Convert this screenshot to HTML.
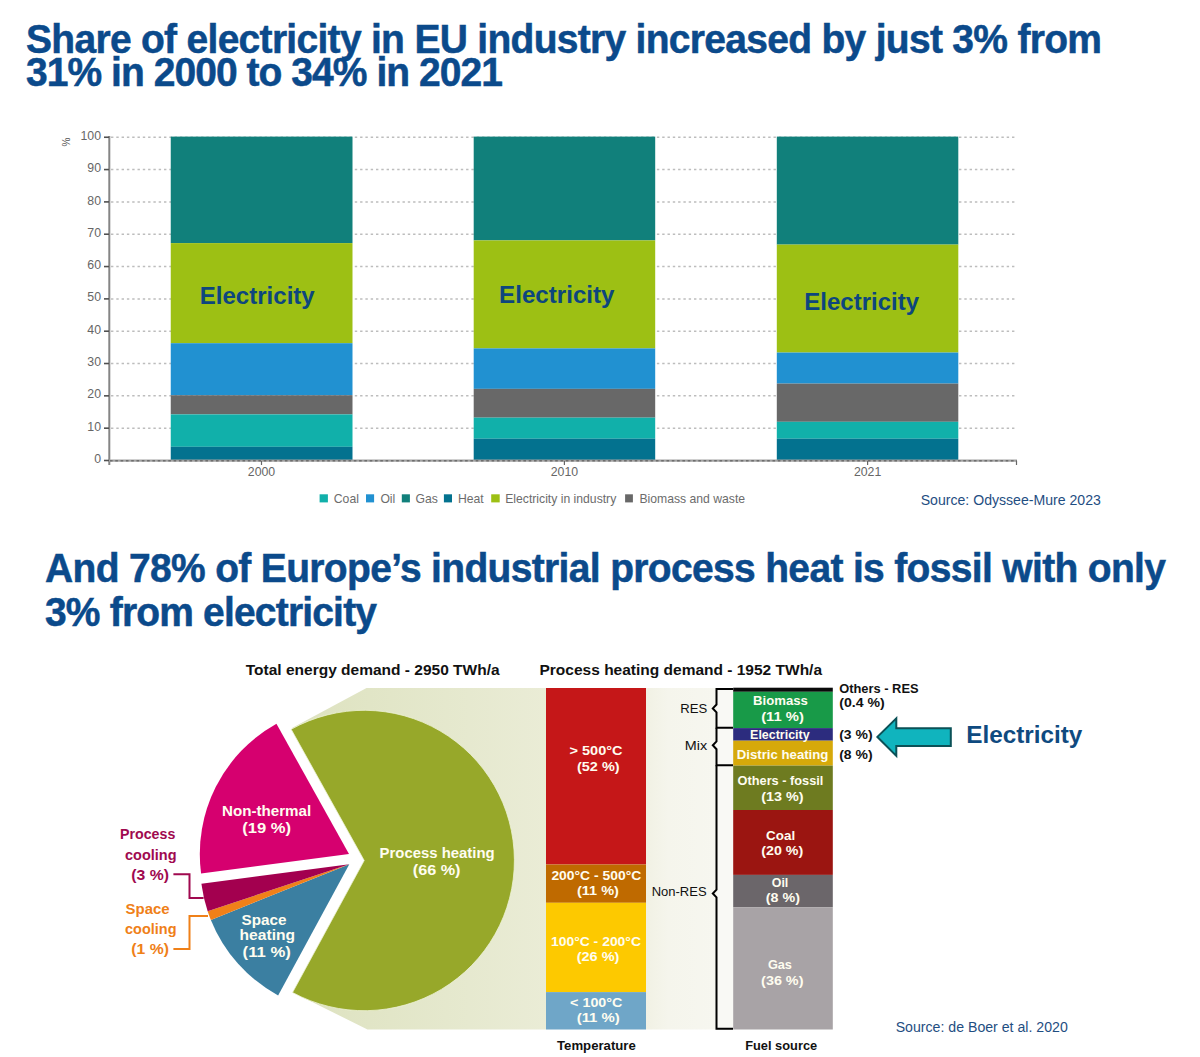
<!DOCTYPE html>
<html>
<head>
<meta charset="utf-8">
<style>
html,body{margin:0;padding:0;background:#fff;}
body{width:1200px;height:1057px;overflow:hidden;position:relative;font-family:"Liberation Sans",sans-serif;}
svg{position:absolute;left:0;top:0;}
svg text{font-family:"Liberation Sans",sans-serif;}
.t{font-weight:bold;fill:#0b4a8b;font-size:39px;stroke:#0b4a8b;stroke-width:0.5px;}
.yl{font-size:12.3px;fill:#666;text-anchor:end;}
.xl{font-size:12.3px;fill:#666;text-anchor:middle;}
.lg{font-size:12.2px;fill:#6c6c6c;}
</style>
</head>
<body>
<svg width="1200" height="1057" viewBox="0 0 1200 1057">
<defs>
<linearGradient id="shade" x1="0" x2="1" y1="0" y2="0">
<stop offset="0" stop-color="#dde2bf"/>
<stop offset="1" stop-color="#eaecd6"/>
</linearGradient>
<linearGradient id="cream" x1="0" x2="1" y1="0" y2="0">
<stop offset="0" stop-color="#f1f1e4"/>
<stop offset="0.25" stop-color="#f5f5ec"/>
<stop offset="1" stop-color="#f7f7f1"/>
</linearGradient>
</defs>
<!-- ===== Title 1 ===== -->
<text class="t" x="0" y="0" transform="translate(26,52.5) scale(1,1.05)" textLength="1076" lengthAdjust="spacing">Share of electricity in EU industry increased by just 3% from</text>
<text class="t" x="0" y="0" transform="translate(26,86) scale(1,1.05)" textLength="477" lengthAdjust="spacing">31% in 2000 to 34% in 2021</text>

<!-- ===== Top chart ===== -->
<g stroke="#bdbdbd" stroke-width="1.5" stroke-dasharray="2.4 2.9">
<line x1="111" y1="428.18" x2="1017" y2="428.18"/>
<line x1="111" y1="395.85" x2="1017" y2="395.85"/>
<line x1="111" y1="363.52" x2="1017" y2="363.52"/>
<line x1="111" y1="331.20" x2="1017" y2="331.20"/>
<line x1="111" y1="298.88" x2="1017" y2="298.88"/>
<line x1="111" y1="266.55" x2="1017" y2="266.55"/>
<line x1="111" y1="234.22" x2="1017" y2="234.22"/>
<line x1="111" y1="201.90" x2="1017" y2="201.90"/>
<line x1="111" y1="169.57" x2="1017" y2="169.57"/>
<line x1="111" y1="137.25" x2="1017" y2="137.25"/>
</g>
<rect x="170.75" y="136.6" width="181.75" height="106.50" fill="#11807b"/>
<rect x="170.75" y="243.1" width="181.75" height="100.10" fill="#9dc014"/>
<rect x="170.75" y="343.2" width="181.75" height="52.05" fill="#2191d1"/>
<rect x="170.75" y="395.25" width="181.75" height="19.15" fill="#686868"/>
<rect x="170.75" y="414.4" width="181.75" height="32.40" fill="#11b0aa"/>
<rect x="170.75" y="446.8" width="181.75" height="13.50" fill="#03728f"/>
<rect x="473.7" y="136.6" width="181.50" height="103.80" fill="#11807b"/>
<rect x="473.7" y="240.4" width="181.50" height="108.00" fill="#9dc014"/>
<rect x="473.7" y="348.4" width="181.50" height="40.45" fill="#2191d1"/>
<rect x="473.7" y="388.85" width="181.50" height="28.80" fill="#686868"/>
<rect x="473.7" y="417.65" width="181.50" height="21.05" fill="#11b0aa"/>
<rect x="473.7" y="438.7" width="181.50" height="21.60" fill="#03728f"/>
<rect x="776.8" y="136.6" width="181.50" height="108.00" fill="#11807b"/>
<rect x="776.8" y="244.6" width="181.50" height="107.95" fill="#9dc014"/>
<rect x="776.8" y="352.55" width="181.50" height="31.05" fill="#2191d1"/>
<rect x="776.8" y="383.6" width="181.50" height="38.20" fill="#686868"/>
<rect x="776.8" y="421.8" width="181.50" height="16.90" fill="#11b0aa"/>
<rect x="776.8" y="438.7" width="181.50" height="21.60" fill="#03728f"/>
<line x1="109.3" y1="136" x2="109.3" y2="465" stroke="#858585" stroke-width="2"/>
<line x1="108" y1="460.7" x2="1017" y2="460.7" stroke="#a2a2a2" stroke-width="2.2"/>
<line x1="110" y1="460.7" x2="1017" y2="460.7" stroke="#6e6e6e" stroke-width="1.6" stroke-dasharray="2.6 2.7"/>
<g stroke="#505050" stroke-width="1.6">
<line x1="104" y1="460.50" x2="109" y2="460.50"/>
<line x1="104" y1="428.18" x2="109" y2="428.18"/>
<line x1="104" y1="395.85" x2="109" y2="395.85"/>
<line x1="104" y1="363.52" x2="109" y2="363.52"/>
<line x1="104" y1="331.20" x2="109" y2="331.20"/>
<line x1="104" y1="298.88" x2="109" y2="298.88"/>
<line x1="104" y1="266.55" x2="109" y2="266.55"/>
<line x1="104" y1="234.22" x2="109" y2="234.22"/>
<line x1="104" y1="201.90" x2="109" y2="201.90"/>
<line x1="104" y1="169.57" x2="109" y2="169.57"/>
<line x1="104" y1="137.25" x2="109" y2="137.25"/>
</g>
<g stroke="#666" stroke-width="1.2">
<line x1="261.5" y1="461" x2="261.5" y2="465"/>
<line x1="564.4" y1="461" x2="564.4" y2="465"/>
<line x1="867.6" y1="461" x2="867.6" y2="465"/>
<line x1="1016.5" y1="461" x2="1016.5" y2="465"/>
</g>
<g class="yl">
<text x="101" y="463.10">0</text>
<text x="101" y="430.78">10</text>
<text x="101" y="398.45">20</text>
<text x="101" y="366.12">30</text>
<text x="101" y="333.80">40</text>
<text x="101" y="301.48">50</text>
<text x="101" y="269.15">60</text>
<text x="101" y="236.82">70</text>
<text x="101" y="204.50">80</text>
<text x="101" y="172.17">90</text>
<text x="101" y="139.85">100</text>
</g>
<text x="0" y="0" font-size="10" fill="#555" transform="translate(69.7,146.5) rotate(-90)">%</text>
<g class="xl">
<text x="261.5" y="476">2000</text>
<text x="564.4" y="476">2010</text>
<text x="867.6" y="476">2021</text>
</g>
<!-- legend -->
<rect x="319.6" y="494.3" width="8.3" height="8.1" fill="#11b0aa"/>
<rect x="366" y="494.3" width="8.1" height="8.1" fill="#2191d1"/>
<rect x="401.8" y="494.3" width="8.1" height="8.1" fill="#11807b"/>
<rect x="443.9" y="494.3" width="8.1" height="8.1" fill="#03728f"/>
<rect x="491.2" y="494.3" width="8.5" height="8.1" fill="#9dc014"/>
<rect x="625.1" y="494.3" width="7.8" height="8.1" fill="#686868"/>
<g class="lg">
<text x="333.8" y="502.6">Coal</text>
<text x="380.4" y="502.6">Oil</text>
<text x="415.5" y="502.6">Gas</text>
<text x="458" y="502.6">Heat</text>
<text x="505.2" y="502.6">Electricity in industry</text>
<text x="639.4" y="502.6">Biomass and waste</text>
</g>

<!-- ===== Title 2 ===== -->
<text class="t" x="0" y="0" transform="translate(45,582.3) scale(1,1.045)" textLength="1121" lengthAdjust="spacing">And 78% of Europe’s industrial process heat is fossil with only</text>
<text class="t" x="0" y="0" transform="translate(45,626) scale(1,1.045)" textLength="332" lengthAdjust="spacing">3% from electricity</text>

<!-- ===== Bottom chart ===== -->
<polygon points="292,728 366.5,688 546,688 546,1029.5 367.5,1029.5 293,992.5 364.5,860" fill="url(#shade)"/>
<rect x="646" y="688" width="87.5" height="341.5" fill="url(#cream)"/>
<rect x="717" y="688" width="16.5" height="341.5" fill="#f9f9f5"/>
<path d="M364.20,860.50 L291.15,729.26 A150.2,150.2 0 1 1 292.53,992.50 Z" fill="#97a82a" stroke="#eef2d6" stroke-width="0.8"/>
<path d="M349.30,864.30 L278.11,995.42 A149.2,149.2 0 0 1 210.87,919.95 Z" fill="#3b7fa1"/>
<path d="M349.30,864.30 L210.87,919.95 A149.2,149.2 0 0 1 207.65,911.15 Z" fill="#f08019"/>
<path d="M349.30,864.30 L207.65,911.15 A149.2,149.2 0 0 1 201.38,883.77 Z" fill="#a3004f"/>
<path d="M349.00,854.10 L201.08,873.57 A149.2,149.2 0 0 1 276.44,723.73 Z" fill="#d6006f"/>
<path d="M173.4,874.3 H189.5 V898 H203.6" fill="none" stroke="#a0094f" stroke-width="2"/>
<path d="M173.4,949 H189.5 V916 H208" fill="none" stroke="#ef8018" stroke-width="2"/>

<!-- temperature bar -->
<rect x="546" y="688" width="100" height="176.5" fill="#c51718"/>
<rect x="546" y="864.5" width="100" height="38.3" fill="#bf6a00"/>
<rect x="546" y="902.8" width="100" height="89.3" fill="#fdc900"/>
<rect x="546" y="992.1" width="100" height="37.4" fill="#6fa6c8"/>

<!-- fuel bar -->
<rect x="733.2" y="687.7" width="99.6" height="4.1" fill="#0a0a0a"/>
<rect x="733.2" y="691.8" width="99.6" height="36.3" fill="#189a48"/>
<rect x="733.2" y="728.1" width="99.6" height="12.6" fill="#2c2c7e"/>
<rect x="733.2" y="740.7" width="99.6" height="24.9" fill="#d6a90a"/>
<rect x="733.2" y="765.6" width="99.6" height="44.4" fill="#6e7b20"/>
<rect x="733.2" y="810" width="99.6" height="64.9" fill="#9b1511"/>
<rect x="733.2" y="874.9" width="99.6" height="32.3" fill="#6b666a"/>
<rect x="733.2" y="907.2" width="99.6" height="122.3" fill="#a8a3a6"/>

<!-- brackets -->
<g fill="none" stroke="#000" stroke-width="2">
<path d="M733,689 H716.5 V704.5 L712.8,708.4 L716.5,712.3 V727.8 H733"/>
<path d="M716.5,727.8 V741.4 L712.8,745.3 L716.5,749.2 V765.2 H733"/>
<path d="M716.5,765.2 V889.6 L712.8,893.5 L716.5,897.4 V1028.7 H733"/>
</g>
<!-- arrow -->
<polygon points="877.4,736.9 896.3,718.4 896.3,728.2 950.8,728.2 950.8,746 896.3,746 896.3,755.9" fill="#10b4be" stroke="#0b5157" stroke-width="2" stroke-linejoin="miter"/>

<text x="245.80" y="674.8" font-size="15.4" font-weight="bold" fill="#111" textLength="253.82" lengthAdjust="spacingAndGlyphs">Total energy demand - 2950 TWh/a</text>
<text x="539.50" y="674.8" font-size="15.4" font-weight="bold" fill="#111" textLength="282.55" lengthAdjust="spacingAndGlyphs">Process heating demand - 1952 TWh/a</text>
<text x="379.60" y="858" font-size="14.6" font-weight="bold" fill="#fffdf0" textLength="115.09" lengthAdjust="spacingAndGlyphs">Process heating</text>
<text x="412.75" y="874.75" font-size="14.6" font-weight="bold" fill="#fffdf0" textLength="47.71" lengthAdjust="spacingAndGlyphs">(66 %)</text>
<text x="222.00" y="815.9" font-size="14.6" font-weight="bold" fill="#fffdf0" textLength="89.23" lengthAdjust="spacingAndGlyphs">Non-thermal</text>
<text x="242.20" y="832.8" font-size="14.6" font-weight="bold" fill="#fffdf0" textLength="48.86" lengthAdjust="spacingAndGlyphs">(19 %)</text>
<text x="241.60" y="924.7" font-size="14.6" font-weight="bold" fill="#fffdf0" textLength="44.85" lengthAdjust="spacingAndGlyphs">Space</text>
<text x="239.60" y="940.3" font-size="14.6" font-weight="bold" fill="#fffdf0" textLength="55.42" lengthAdjust="spacingAndGlyphs">heating</text>
<text x="242.60" y="956.6" font-size="14.6" font-weight="bold" fill="#fffdf0" textLength="48.31" lengthAdjust="spacingAndGlyphs">(11 %)</text>
<text x="120.00" y="839.3" font-size="14.6" font-weight="bold" fill="#a0094f" textLength="55.36" lengthAdjust="spacingAndGlyphs">Process</text>
<text x="125.00" y="859.6" font-size="14.6" font-weight="bold" fill="#a0094f" textLength="51.48" lengthAdjust="spacingAndGlyphs">cooling</text>
<text x="131.30" y="879.6" font-size="14.6" font-weight="bold" fill="#a0094f" textLength="37.64" lengthAdjust="spacingAndGlyphs">(3 %)</text>
<text x="125.60" y="914" font-size="14.6" font-weight="bold" fill="#ef8018" textLength="44.02" lengthAdjust="spacingAndGlyphs">Space</text>
<text x="125.00" y="933.9" font-size="14.6" font-weight="bold" fill="#ef8018" textLength="51.48" lengthAdjust="spacingAndGlyphs">cooling</text>
<text x="131.30" y="953.8" font-size="14.6" font-weight="bold" fill="#ef8018" textLength="37.64" lengthAdjust="spacingAndGlyphs">(1 %)</text>
<text x="569.50" y="755" font-size="13.4" font-weight="bold" fill="#fffdf0" textLength="53.09" lengthAdjust="spacingAndGlyphs">&gt; 500°C</text>
<text x="577.00" y="770.5" font-size="13.4" font-weight="bold" fill="#fffdf0" textLength="42.57" lengthAdjust="spacingAndGlyphs">(52 %)</text>
<text x="551.40" y="879.5" font-size="13.4" font-weight="bold" fill="#fffdf0" textLength="89.87" lengthAdjust="spacingAndGlyphs">200°C - 500°C</text>
<text x="577.00" y="894.9" font-size="13.4" font-weight="bold" fill="#fffdf0" textLength="41.84" lengthAdjust="spacingAndGlyphs">(11 %)</text>
<text x="550.90" y="945.5" font-size="13.4" font-weight="bold" fill="#fffdf0" textLength="90.11" lengthAdjust="spacingAndGlyphs">100°C - 200°C</text>
<text x="576.70" y="960.5" font-size="13.4" font-weight="bold" fill="#fffdf0" textLength="42.78" lengthAdjust="spacingAndGlyphs">(26 %)</text>
<text x="570.10" y="1006.5" font-size="13.4" font-weight="bold" fill="#fffdf0" textLength="52.26" lengthAdjust="spacingAndGlyphs">&lt; 100°C</text>
<text x="576.70" y="1021.5" font-size="13.4" font-weight="bold" fill="#fffdf0" textLength="43.10" lengthAdjust="spacingAndGlyphs">(11 %)</text>
<text x="557.00" y="1049.5" font-size="13" font-weight="bold" fill="#111" textLength="78.81" lengthAdjust="spacingAndGlyphs">Temperature</text>
<text x="753.10" y="705" font-size="13.4" font-weight="bold" fill="#fffdf0" textLength="54.79" lengthAdjust="spacingAndGlyphs">Biomass</text>
<text x="761.20" y="720.6" font-size="13.4" font-weight="bold" fill="#fffdf0" textLength="42.68" lengthAdjust="spacingAndGlyphs">(11 %)</text>
<text x="750.10" y="739" font-size="13.4" font-weight="bold" fill="#fffdf0" textLength="59.55" lengthAdjust="spacingAndGlyphs">Electricity</text>
<text x="736.80" y="759.3" font-size="13.4" font-weight="bold" fill="#fffdf0" textLength="91.59" lengthAdjust="spacingAndGlyphs">Distric heating</text>
<text x="737.60" y="785" font-size="13.4" font-weight="bold" fill="#fffdf0" textLength="85.75" lengthAdjust="spacingAndGlyphs">Others - fossil</text>
<text x="761.20" y="800.9" font-size="13.4" font-weight="bold" fill="#fffdf0" textLength="42.36" lengthAdjust="spacingAndGlyphs">(13 %)</text>
<text x="766.10" y="840" font-size="13.4" font-weight="bold" fill="#fffdf0" textLength="29.03" lengthAdjust="spacingAndGlyphs">Coal</text>
<text x="761.30" y="855" font-size="13.4" font-weight="bold" fill="#fffdf0" textLength="41.95" lengthAdjust="spacingAndGlyphs">(20 %)</text>
<text x="771.80" y="886.9" font-size="13.4" font-weight="bold" fill="#fffdf0" textLength="16.52" lengthAdjust="spacingAndGlyphs">Oil</text>
<text x="765.80" y="901.5" font-size="13.4" font-weight="bold" fill="#fffdf0" textLength="34.13" lengthAdjust="spacingAndGlyphs">(8 %)</text>
<text x="767.90" y="969" font-size="13.4" font-weight="bold" fill="#fffdf0" textLength="24.05" lengthAdjust="spacingAndGlyphs">Gas</text>
<text x="761.10" y="985" font-size="13.4" font-weight="bold" fill="#fffdf0" textLength="42.36" lengthAdjust="spacingAndGlyphs">(36 %)</text>
<text x="745.20" y="1050" font-size="13" font-weight="bold" fill="#111" textLength="71.96" lengthAdjust="spacingAndGlyphs">Fuel source</text>
<text x="680.20" y="712.6" font-size="13" font-weight="normal" fill="#111" textLength="26.95" lengthAdjust="spacingAndGlyphs">RES</text>
<text x="684.80" y="750" font-size="13" font-weight="normal" fill="#111" textLength="22.36" lengthAdjust="spacingAndGlyphs">Mix</text>
<text x="651.70" y="896.3" font-size="13" font-weight="normal" fill="#111" textLength="54.93" lengthAdjust="spacingAndGlyphs">Non-RES</text>
<text x="839.20" y="692.5" font-size="13" font-weight="bold" fill="#111" textLength="79.38" lengthAdjust="spacingAndGlyphs">Others - RES</text>
<text x="839.20" y="706.5" font-size="13" font-weight="bold" fill="#111" textLength="45.47" lengthAdjust="spacingAndGlyphs">(0.4 %)</text>
<text x="839.20" y="738.6" font-size="13" font-weight="bold" fill="#111" textLength="33.34" lengthAdjust="spacingAndGlyphs">(3 %)</text>
<text x="839.20" y="759" font-size="13" font-weight="bold" fill="#111" textLength="33.34" lengthAdjust="spacingAndGlyphs">(8 %)</text>
<text x="966.20" y="743.2" font-size="24" font-weight="bold" fill="#0f4a80" textLength="116.16" lengthAdjust="spacingAndGlyphs">Electricity</text>
<text x="895.70" y="1032.2" font-size="14" font-weight="normal" fill="#1f4e82" textLength="172.07" lengthAdjust="spacingAndGlyphs">Source: de Boer et al. 2020</text>
<text x="920.70" y="504.5" font-size="14" font-weight="normal" fill="#1f4e82" textLength="180.19" lengthAdjust="spacingAndGlyphs">Source: Odyssee-Mure 2023</text>
<text x="199.70" y="304.2" font-size="23.6" font-weight="bold" fill="#0d467e" textLength="115.03" lengthAdjust="spacingAndGlyphs">Electricity</text>
<text x="499.10" y="302.75" font-size="23.6" font-weight="bold" fill="#0d467e" textLength="115.44" lengthAdjust="spacingAndGlyphs">Electricity</text>
<text x="804.30" y="309.7" font-size="23.6" font-weight="bold" fill="#0d467e" textLength="114.83" lengthAdjust="spacingAndGlyphs">Electricity</text>
</svg>
</body>
</html>
